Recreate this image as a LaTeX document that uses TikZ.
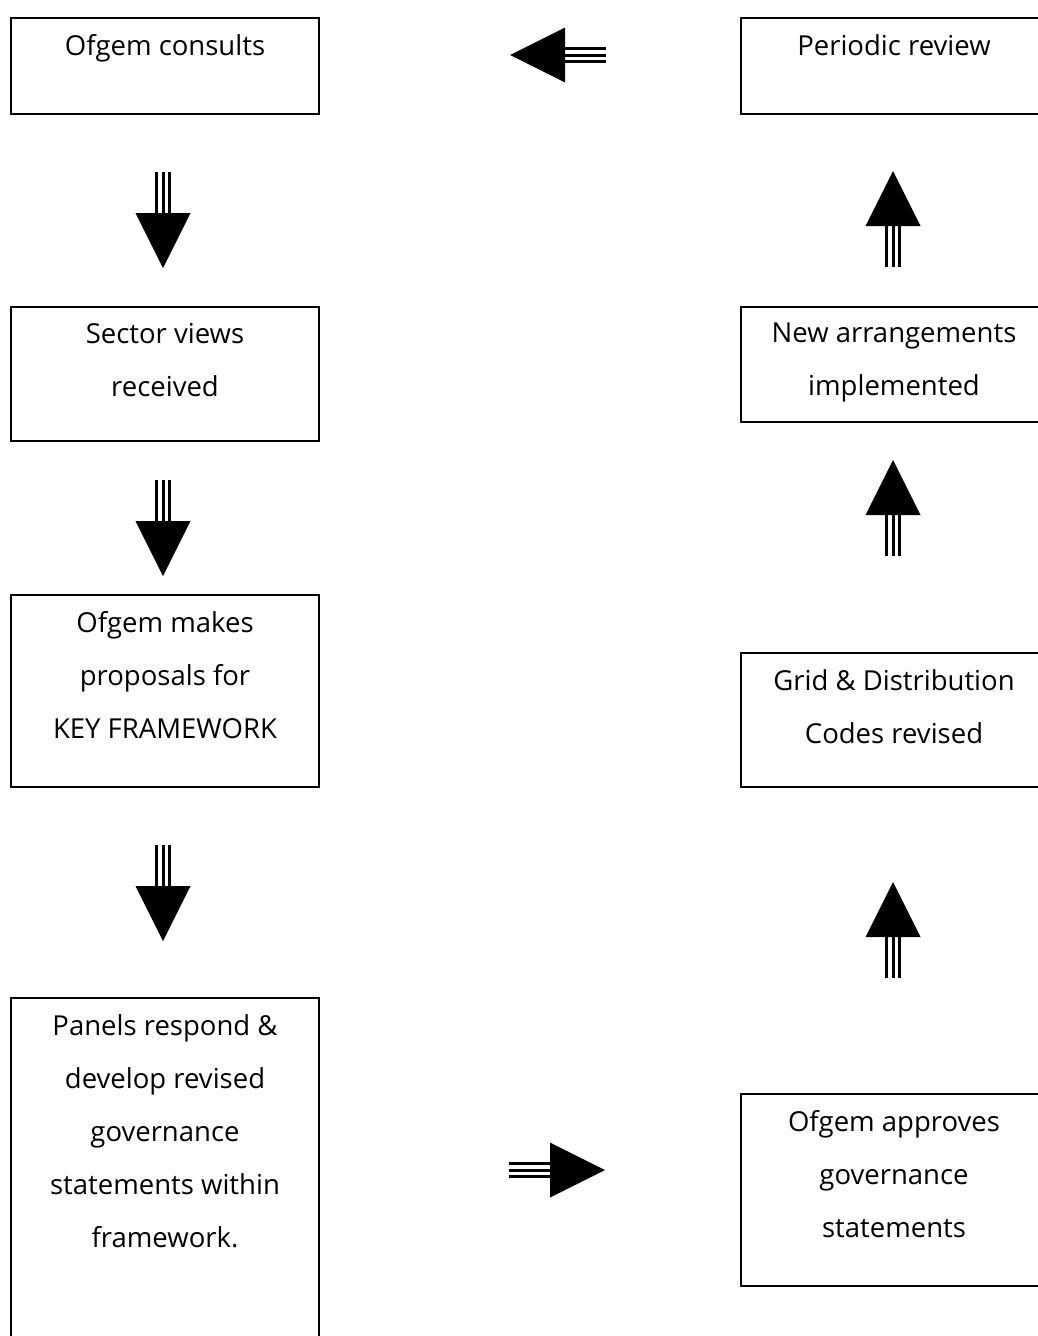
\documentclass[tikz,border=0pt]{standalone}
\usepackage{fontspec}
\setmainfont{Open Sans}
\begin{document}
\begin{tikzpicture}[x=1pt,y=-1pt,
  box/.style={draw, line width=2pt, anchor=north west, inner sep=0pt},
  txt/.style={anchor=north, align=center, inner sep=0pt, font=\fontsize{27.5}{53}\selectfont},
  tarrow/.pic={
    \foreach \o in {-6.5,0,6.5} \draw[line width=3pt] (0,\o) -- (42,\o);
    \fill (41,-27.5) -- (96,0) -- (41,27.5) -- cycle;
  }]
\useasboundingbox (0,0) rectangle (1038,1336);
% left column
\node[box, minimum width=308pt, minimum height=96pt] (b1) at (10,17) {};
\node[box, minimum width=308pt, minimum height=134pt] (b2) at (10,306) {};
\node[box, minimum width=308pt, minimum height=192pt] (b3) at (10,594) {};
\node[box, minimum width=308pt, minimum height=360pt] (b4) at (10,997) {};
% right column
\node[box, minimum width=306pt, minimum height=96pt] (b8) at (740,17) {};
\node[box, minimum width=306pt, minimum height=115pt] (b7) at (740,306) {};
\node[box, minimum width=306pt, minimum height=134pt] (b6) at (740,652) {};
\node[box, minimum width=306pt, minimum height=192pt] (b5) at (740,1093) {};
% texts
\node[txt] (t1) at ([yshift=-17pt]b1.north) {Ofgem consults};
\node[txt] (t2) at ([yshift=-17pt]b2.north) {Sector views\\received};
\node[txt] (t3) at ([yshift=-17pt]b3.north) {Ofgem makes\\proposals for\\KEY FRAMEWORK};
\node[txt] (t4) at ([yshift=-17pt]b4.north) {Panels respond \&\\develop revised\\governance\\statements within\\framework.};
\node[txt] (t5) at ([yshift=-17pt]b5.north) {Ofgem approves\\governance\\statements};
\node[txt] (t6) at ([yshift=-17pt]b6.north) {Grid \& Distribution\\Codes revised};
\node[txt] (t7) at ([yshift=-17pt]b7.north) {New arrangements\\implemented};
\node[txt] (t8) at ([yshift=-17pt]b8.north) {Periodic review};
% arrows
\coordinate (a1) at (606,55);
\coordinate (a2) at (163,172);
\coordinate (a3) at (163,480);
\coordinate (a4) at (163,845);
\coordinate (a5) at (509,1170);
\coordinate (a6) at (893,978);
\coordinate (a7) at (893,556);
\coordinate (a8) at (893,267);
\pic[rotate=180] at (a1) {tarrow};
\pic[rotate=-90] at (a2) {tarrow};
\pic[rotate=-90] at (a3) {tarrow};
\pic[rotate=-90] at (a4) {tarrow};
\pic at (a5) {tarrow};
\pic[rotate=90] at (a6) {tarrow};
\pic[rotate=90] at (a7) {tarrow};
\pic[rotate=90] at (a8) {tarrow};
\end{tikzpicture}
\end{document}
